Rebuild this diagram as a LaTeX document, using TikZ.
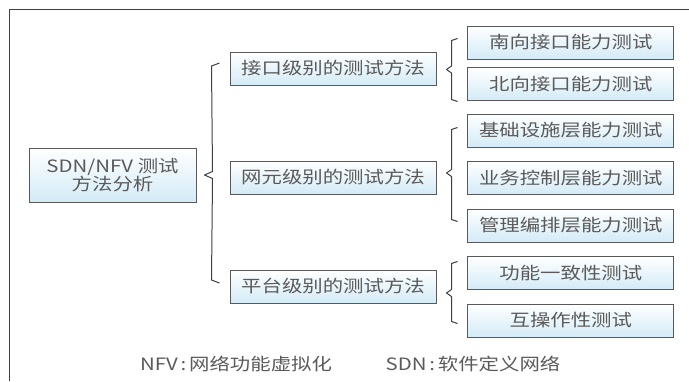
\documentclass[tikz,border=0pt]{standalone}
\usepackage{fontspec}
\setmainfont{Noto Sans CJK SC}[FakeStretch=1.2]
\usepackage{tikz}
\usetikzlibrary{calc}
\usepackage{xcolor}
\definecolor{boxblue}{HTML}{D3EBF7}
\definecolor{inkgray}{HTML}{5A5A5A}

\tikzset{
    box/.style={draw=black!65,line width=0.5pt,top color=white,bottom color=boxblue,
        text=inkgray,inner sep=0pt,minimum width=103pt,minimum height=16.5pt,
        font=\fontsize{8.5}{9.2}\selectfont},
    brace/.style={draw=black!75,line width=0.5pt,line join=round}
}

\begin{document}
\begin{tikzpicture}[x=0.5pt,y=-0.5pt]
        \useasboundingbox (0,0) rectangle (689,381);
        % Frame
        \draw[black!75,line width=0.6pt] (9.5,381) -- (9.5,9.5) -- (689,9.5);
        % Root
        \node[box,minimum width=83.5pt,minimum height=27pt,align=center] (root) at (112.5,175) {SDN/NFV 测试\\方法分析};
        % Levels
        \node[box] (iface) at (333,68.5) {接口级别的测试方法};
        \node[box] (elem) at (333,177.5) {网元级别的测试方法};
        \node[box] (plat) at (333,286.5) {平台级别的测试方法};
        % Tests
        \node[box] (south) at (570.8,42.5) {南向接口能力测试};
        \node[box] (north) at (570.8,84) {北向接口能力测试};
        \node[box] (infra) at (570.8,130.5) {基础设施层能力测试};
        \node[box] (service) at (570.8,178) {业务控制层能力测试};
        \node[box] (orch) at (570.8,225.5) {管理编排层能力测试};
        \node[box] (conform) at (570.8,273) {功能一致性测试};
        \node[box] (interop) at (570.8,320.5) {互操作性测试};
        % Braces
        \draw[brace] ($(iface.west)+(-10,-5.5)$) -- ++(-8,3) -- ($(root.east)+(16,-3.5)$) -- ($(root.east)+(8,0)$)
            -- ($(root.east)+(16,3.5)$) -- ($(plat.west)+(-18,-6.5)$) -- ++(8,3);
        \draw[brace] ($(iface.east)+(21,-30)$) -- ++(-6,2) -- ($(iface.east)+(15,-2.5)$) -- ($(iface.east)+(10,1)$)
            -- ($(iface.east)+(15,4.5)$) -- ($(iface.east)+(15,31)$) -- ++(6,2);
        \draw[brace] ($(elem.east)+(21,-50)$) -- ++(-6,2) -- ($(elem.east)+(15,-8)$) -- ($(elem.east)+(10,-4.5)$)
            -- ($(elem.east)+(15,-1)$) -- ($(elem.east)+(15,42)$) -- ++(6,2);
        \draw[brace] ($(plat.east)+(21,-25)$) -- ++(-6,2) -- ($(plat.east)+(15,3)$) -- ($(plat.east)+(10,6.5)$)
            -- ($(plat.east)+(15,10)$) -- ($(plat.east)+(15,35)$) -- ++(6,2);
        % Notes
        \node[text=inkgray,font=\fontsize{8.5}{9}\selectfont] (nfv) at (236,364) {NFV\,:\,网络功能虚拟化};
        \node[text=inkgray,font=\fontsize{8.5}{9}\selectfont] (sdn) at (473,364) {SDN\,:\,软件定义网络};
    \end{tikzpicture}
\end{document}
